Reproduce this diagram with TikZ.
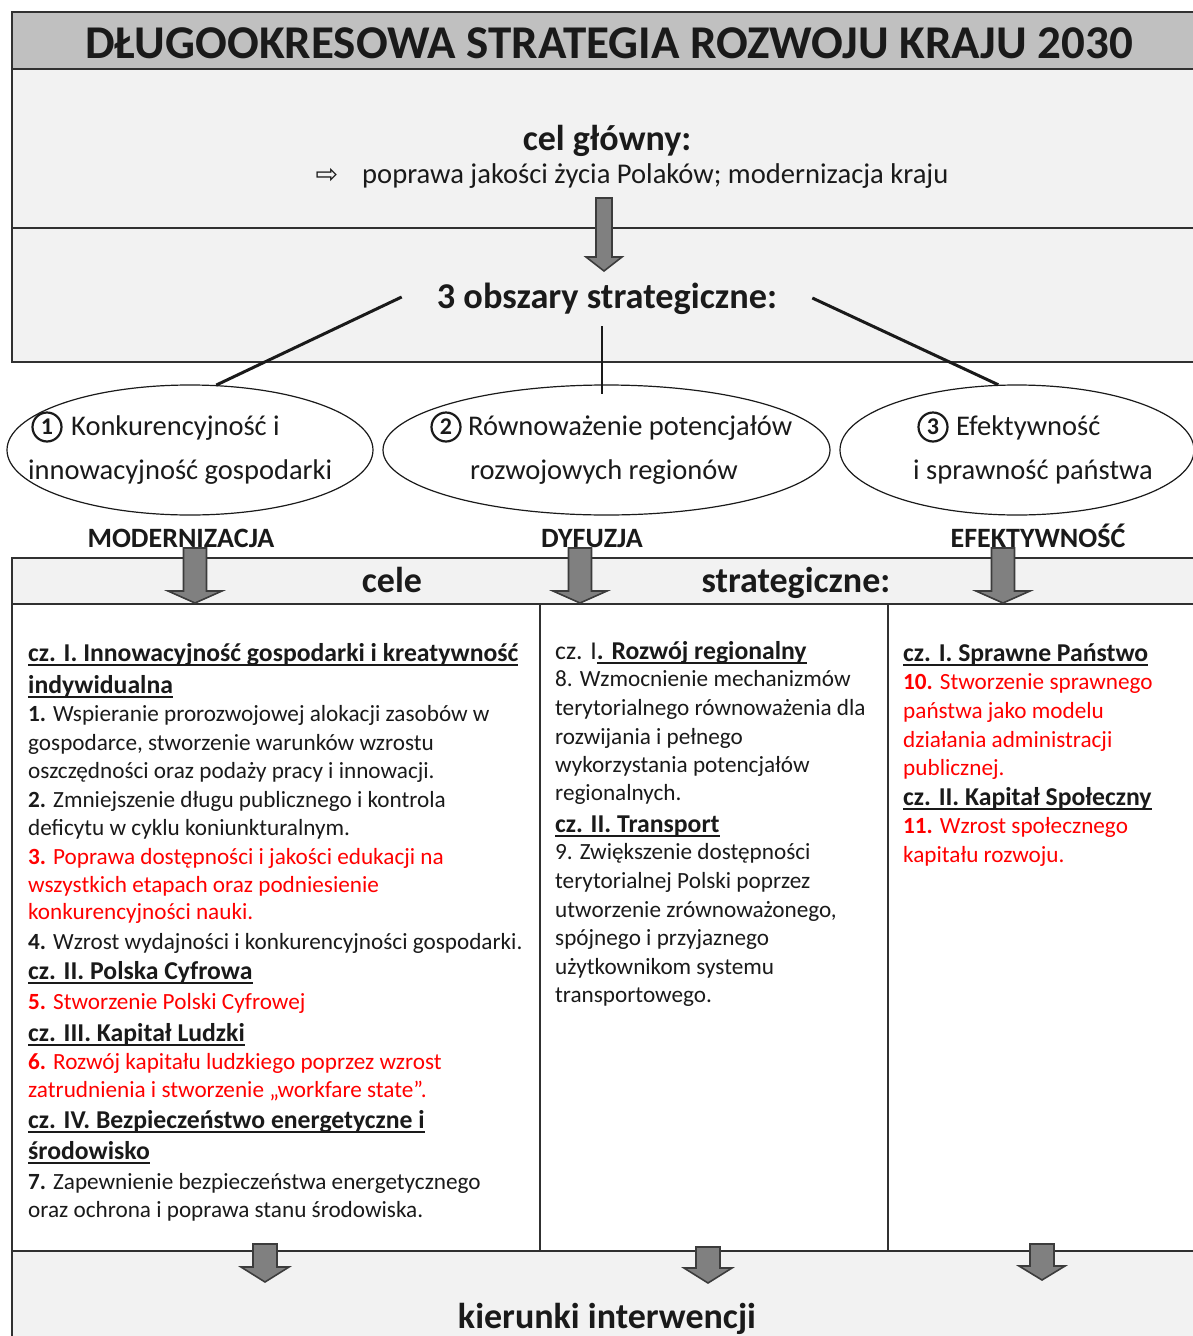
\documentclass[tikz,border=0pt]{standalone}
\usepackage{fontspec}
\setmainfont{Carlito}
\newfontfamily\dejavu{DejaVu Sans}
\usetikzlibrary{shapes.geometric,calc}
\definecolor{bandgray}{HTML}{F2F2F2}
\definecolor{titlegray}{HTML}{C0C0C0}
\definecolor{arrgray}{HTML}{808080}
\definecolor{txtred}{HTML}{FF0000}
\definecolor{ink}{HTML}{1A1A1A}
\newsavebox\ulbox
\newcommand\myul[1]{\sbox\ulbox{#1}\rlap{\rule[-4.5pt]{\wd\ulbox}{1.8pt}}\usebox\ulbox}
\newcounter{lnc}
\newcommand\txtline[3]{\stepcounter{lnc}\node[#1] (ln\arabic{lnc}) at (#2) {#3};}
\newcommand\blockarrow[6]{%
  \draw[barrow] (#1-#5,#2) -- (#1+#5,#2) -- (#1+#5,#3) -- (#1+#6,#3) -- (#1,#4) -- (#1-#6,#3) -- (#1-#5,#3) -- cycle;}
\tikzset{
  frame/.style={draw=ink!90, line width=1.6pt},
  barrow/.style={draw=ink!85, fill=arrgray, line width=1.6pt, line join=miter},
  body/.style={anchor=mid west, inner sep=0pt, text=ink, font=\fontsize{23.2}{27}\selectfont},
  redbody/.style={body, text=txtred},
  head/.style={anchor=mid west, inner sep=0pt, text=ink, font=\bfseries\fontsize{25.7}{29}\selectfont},
  elltext/.style={anchor=mid west, inner sep=0pt, text=ink, font=\fontsize{28.5}{32}\selectfont},
  bighead/.style={anchor=base, inner sep=0pt, text=ink, font=\bfseries\fontsize{36}{40}\selectfont},
  capslabel/.style={anchor=base, inner sep=0pt, text=ink, font=\bfseries\fontsize{28}{32}\selectfont},
  areaell/.style={ellipse, draw=ink, line width=1.2pt, fill=white, inner sep=0pt},
  numcirc/.style={circle, draw=ink, line width=2.2pt, minimum size=29pt, inner sep=0pt, text=ink, font=\bfseries\fontsize{24}{24}\selectfont},
  link/.style={draw=ink, line width=3pt},
}
\begin{document}
\begin{tikzpicture}[x=1pt,y=-1pt]
\useasboundingbox (0,0) rectangle (1193,1336);
\begin{scope}
\clip (0,0) rectangle (1193,1336);
% bands
\draw[frame, fill=titlegray] (12,12) rectangle (1210,69);
\draw[frame, fill=bandgray] (12,69) rectangle (1210,228);
\draw[frame, fill=bandgray] (12,228) rectangle (1210,362);
\draw[frame, fill=bandgray] (12,558) rectangle (1210,604);
\draw[frame, fill=white] (12,604) rectangle (540,1251);
\draw[frame, fill=white] (540,604) rectangle (888,1251);
\draw[frame, fill=white] (888,604) rectangle (1210,1251);
\draw[frame, fill=bandgray] (12,1251) rectangle (1210,1350);

% title and main goal
\node[anchor=base, inner sep=0pt, text=ink, font=\bfseries\fontsize{47}{52}\selectfont] (title) at (609,58) {DŁUGOOKRESOWA STRATEGIA ROZWOJU KRAJU 2030};
\node[bighead] (goal) at (607,150) {cel główny:};
\node[anchor=base, inner sep=0pt, text=ink, font=\dejavu\fontsize{27}{28}\selectfont] (goalarrow) at (327,183) {⇨};
\node[anchor=base west, inner sep=0pt, text=ink, font=\fontsize{28.6}{32}\selectfont] (goaltext) at (362,183) {poprawa jakości życia Polaków; modernizacja kraju};

% strategic areas
\node[anchor=base, inner ysep=0pt, inner xsep=35pt, text=ink, font=\bfseries\fontsize{36.3}{40}\selectfont] (obs) at (607,308) {3 obszary strategiczne:};

\node[areaell, minimum width=366pt, minimum height=130pt] (e1) at (190,450) {};
\node[areaell, minimum width=447pt, minimum height=130pt] (e2) at (606.5,450) {};
\node[areaell, minimum width=354pt, minimum height=130pt] (e3) at (1017,450) {};

\coordinate (ctop) at (602,326);
\coordinate (cbot) at (602,394);
\draw[link] (obs.west |- 0,297) -- (e1.68);
\draw[link] (obs.east |- 0,298) -- (e3.106);
\draw[draw=ink, line width=2.2pt] (ctop) -- (cbot);

\node[numcirc] (n1) at (47,427) {1};
\node[numcirc] (n2) at (446,427) {2};
\node[numcirc] (n3) at (933,427) {3};
\node[elltext] (e1a) at (71,433) {Konkurencyjność i};
\node[elltext] (e1b) at (28,477) {innowacyjność gospodarki};
\node[elltext] (e2a) at (468,433) {Równoważenie potencjałów};
\node[elltext] (e2b) at (470,477) {rozwojowych regionów};
\node[elltext] (e3a) at (956,433) {Efektywność};
\node[elltext] (e3b) at (913,477) {i sprawność państwa};

\node[capslabel] (mod) at (181,547) {MODERNIZACJA};
\node[capslabel] (dyf) at (592,547) {DYFUZJA};
\node[capslabel] (efe) at (1038,547) {EFEKTYWNOŚĆ};

\node[bighead] (cele) at (392,592) {cele};
\node[bighead] (strat) at (796,592) {strategiczne:};

% column 1
\txtline{head}{28,659}{\myul{cz. I. Innowacyjność gospodarki i kreatywność}}
\txtline{head}{28,691}{\myul{indywidualna}}
\txtline{body}{28,719}{\textbf{1.} Wspieranie prorozwojowej alokacji zasobów w}
\txtline{body}{28,748}{gospodarce, stworzenie warunków wzrostu}
\txtline{body}{28,776}{oszczędności oraz podaży pracy i innowacji.}
\txtline{body}{28,805}{\textbf{2.} Zmniejszenie długu publicznego i kontrola}
\txtline{body}{28,833}{deficytu w cyklu koniunkturalnym.}
\txtline{redbody}{28,862}{\textbf{3.} Poprawa dostępności i jakości edukacji na}
\txtline{redbody}{28,890}{wszystkich etapach oraz podniesienie}
\txtline{redbody}{28,917}{konkurencyjności nauki.}
\txtline{body}{28,947}{\textbf{4.} Wzrost wydajności i konkurencyjności gospodarki.}
\txtline{head}{28,977}{\myul{cz. II. Polska Cyfrowa}}
\txtline{redbody}{28,1007}{\textbf{5.} Stworzenie Polski Cyfrowej}
\txtline{head}{28,1039}{\myul{cz. III. Kapitał Ludzki}}
\txtline{redbody}{28,1067}{\textbf{6.} Rozwój kapitału ludzkiego poprzez wzrost}
\txtline{redbody}{28,1095}{zatrudnienia i stworzenie „workfare state”.}
\txtline{head}{28,1126}{\myul{cz. IV. Bezpieczeństwo energetyczne i}}
\txtline{head}{28,1157}{\myul{środowisko}}
\txtline{body}{28,1187}{\textbf{7.} Zapewnienie bezpieczeństwa energetycznego}
\txtline{body}{28,1215}{oraz ochrona i poprawa stanu środowiska.}

% column 2
\txtline{head}{555,657}{{\mdseries cz. I}\myul{. Rozwój regionalny}}
\txtline{body}{555,684}{8. Wzmocnienie mechanizmów}
\txtline{body}{555,713}{terytorialnego równoważenia dla}
\txtline{body}{555,742}{rozwijania i pełnego}
\txtline{body}{555,770}{wykorzystania potencjałów}
\txtline{body}{555,798}{regionalnych.}
\txtline{head}{555,830}{\myul{cz. II. Transport}}
\txtline{body}{555,857}{9. Zwiększenie dostępności}
\txtline{body}{555,886}{terytorialnej Polski poprzez}
\txtline{body}{555,915}{utworzenie zrównoważonego,}
\txtline{body}{555,943}{spójnego i przyjaznego}
\txtline{body}{555,972}{użytkownikom systemu}
\txtline{body}{555,1000}{transportowego.}

% column 3
\txtline{head}{903,659}{\myul{cz. I. Sprawne Państwo}}
\txtline{redbody}{903,687}{\textbf{10.} Stworzenie sprawnego}
\txtline{redbody}{903,716}{państwa jako modelu}
\txtline{redbody}{903,745}{działania administracji}
\txtline{redbody}{903,773}{publicznej.}
\txtline{head}{903,803}{\myul{cz. II. Kapitał Społeczny}}
\txtline{redbody}{903,831}{\textbf{11.} Wzrost społecznego}
\txtline{redbody}{903,860}{kapitału rozwoju.}

\node[bighead] (kier) at (607,1328) {kierunki interwencji};

% block arrows
\blockarrow{604}{198}{257}{271}{8}{18}
\blockarrow{195}{548}{591}{603}{11.5}{27}
\blockarrow{580}{548}{591}{603}{11.5}{27}
\blockarrow{1003}{548}{591}{603}{11.5}{27}
\blockarrow{265}{1244}{1267}{1282}{12}{24}
\blockarrow{708}{1247}{1268}{1283}{12}{24}
\blockarrow{1042}{1244}{1266}{1280}{12}{23}
\end{scope}
\end{tikzpicture}
\end{document}
